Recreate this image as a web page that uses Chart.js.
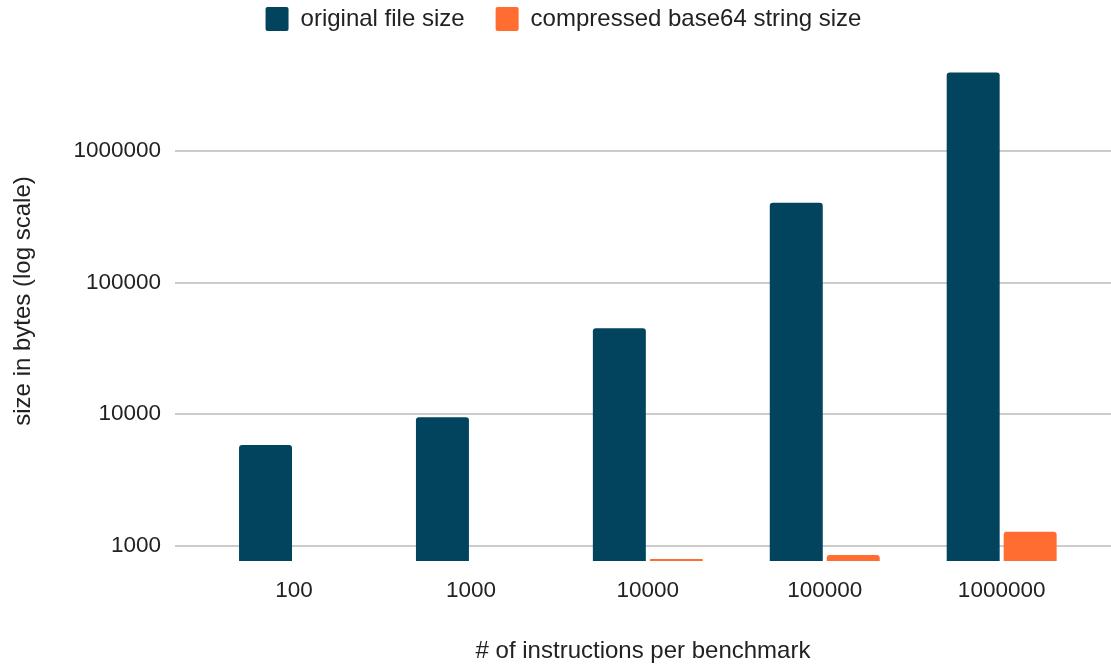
<!DOCTYPE html>
<html>
<head>
<meta charset="utf-8">
<script src="https://cdn.jsdelivr.net/npm/chart.js@4/dist/chart.umd.min.js"></script>
<style>
  html, body { margin: 0; padding: 0; background: #ffffff; }
  #wrap { width: 1111px; height: 664px; position: relative; }
</style>
</head>
<body>
<div id="wrap"><canvas id="c"></canvas></div>
<script>
const categories = ['100', '1000', '10000', '100000', '1000000'];
const originalSize = [5820, 9480, 44900, 403700, 3960000];
const compressedSize = [560, 640, 793, 850, 1276];
const seriesNames = ['original file size', 'compressed base64 string size'];
const yTickValues = [1000, 10000, 100000, 1000000];
const xTitle = '# of instructions per benchmark';
const yTitle = 'size in bytes (log scale)';

const FONT = "'Liberation Sans', Arial, sans-serif";
const TEXT = '#222222';

function points(values) {
  return values.map((v, i) => ({ x: i, y: v }));
}

new Chart(document.getElementById('c'), {
  type: 'bar',
  data: {
    datasets: [
      {
        label: seriesNames[0],
        data: points(originalSize),
        backgroundColor: '#02445e',
        borderRadius: 3,
        barPercentage: 0.93,
        categoryPercentage: 0.644
      },
      {
        label: seriesNames[1],
        data: points(compressedSize),
        backgroundColor: '#ff6d31',
        borderRadius: 3,
        barPercentage: 0.93,
        categoryPercentage: 0.644
      }
    ]
  },
  options: {
    responsive: true,
    maintainAspectRatio: false,
    animation: false,
    layout: { padding: { top: -24, left: 16, right: 0, bottom: 0 } },
    plugins: {
      tooltip: { enabled: false },
      legend: {
        position: 'top',
        align: 'center',
        labels: {
          boxWidth: 23,
          boxHeight: 24,
          padding: 31,
          color: TEXT,
          useBorderRadius: true,
          borderRadius: 2,
          font: { family: FONT, size: 24 }
        }
      }
    },
    scales: {
      x: {
        type: 'linear',
        min: -0.6727,
        max: 4.618,
        offset: false,
        grid: { display: false, drawTicks: false },
        border: { display: false },
        afterBuildTicks: (axis) => {
          axis.ticks = categories.map((c, i) => ({ value: i }));
        },
        afterFit: (scale) => { scale.height = 103; },
        ticks: {
          padding: 16,
          color: TEXT,
          font: { family: FONT, size: 22.5 },
          callback: (v) => categories[v]
        },
        title: {
          display: true,
          text: xTitle,
          color: TEXT,
          font: { family: FONT, size: 24 },
          padding: { top: 0, bottom: -2 }
        }
      },
      y: {
        type: 'logarithmic',
        min: 766,
        max: 6860000,
        grid: { color: '#cccccc', lineWidth: 2, drawTicks: false },
        border: { display: false },
        afterBuildTicks: (axis) => {
          axis.ticks = yTickValues.map(v => ({ value: v }));
        },
        afterFit: (scale) => { scale.width = 159; },
        ticks: {
          padding: 14,
          color: TEXT,
          font: { family: FONT, size: 22.5 },
          callback: (v) => String(v)
        },
        title: {
          display: true,
          text: yTitle,
          color: TEXT,
          font: { family: FONT, size: 24 },
          padding: { top: -7, bottom: 0 }
        }
      }
    }
  }
});
</script>
</body>
</html>
